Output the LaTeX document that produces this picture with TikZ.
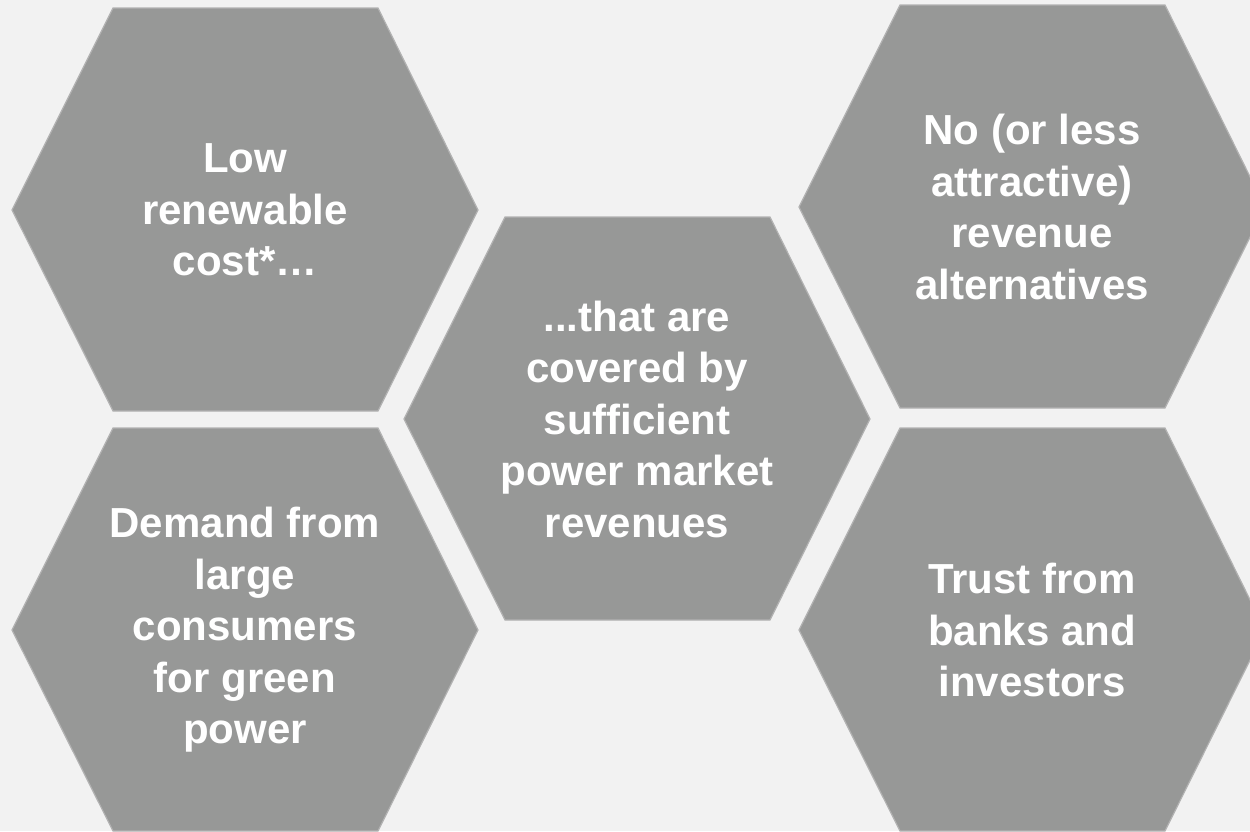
\documentclass[tikz,border=0pt]{standalone}
\usepackage{fontspec}
\setmainfont{Liberation Sans}
\definecolor{bggray}{RGB}{242,242,242}
\definecolor{hexgray}{RGB}{151,152,151}
\definecolor{hexedge}{RGB}{178,178,178}

\tikzset{
    hex/.style={fill=hexgray, draw=hexedge, line width=1.2pt},
    lbl/.style={text=white, align=center, inner sep=0pt,
        font=\bfseries\fontsize{42}{51.5}\selectfont}
}

\begin{document}
\begin{tikzpicture}[x=1pt, y=-1pt]

% Background and frame.
\fill[bggray] (0,0) rectangle (1250,831);
\useasboundingbox (0,0) rectangle (1250,831);
\clip (0,0) rectangle (1250,831);

% Left column.
\draw[hex] (245,210) ++(-233,0) -- ++(101,-202) -- ++(265,0) -- ++(100,202) -- ++(-100,201) -- ++(-265,0) -- cycle;
\node[lbl] (cost) at (245,210) {Low\\renewable\\cost*…};
\draw[hex] (245,630) ++(-233,0) -- ++(101,-202) -- ++(265,0) -- ++(100,202) -- ++(-100,201) -- ++(-265,0) -- cycle;
\node[lbl] (demand) at (245,630) {Demand from\\large\\consumers\\for green\\power};

% Middle.
\draw[hex] (637,419) ++(-233,0) -- ++(101,-202) -- ++(265,0) -- ++(100,202) -- ++(-100,201) -- ++(-265,0) -- cycle;
\node[lbl] (revenues) at (637,419) {...that are\\covered by\\sufficient\\power market\\revenues};

% Right column.
\draw[hex] (1032,207) ++(-233,0) -- ++(101,-202) -- ++(265,0) -- ++(100,202) -- ++(-100,201) -- ++(-265,0) -- cycle;
\node[lbl] (alternatives) at (1032,207) {No (or less\\attractive)\\revenue\\alternatives};
\draw[hex] (1032,630) ++(-233,0) -- ++(101,-202) -- ++(265,0) -- ++(100,202) -- ++(-100,201) -- ++(-265,0) -- cycle;
\node[lbl] (trust) at (1032,630) {Trust from\\banks and\\investors};

\end{tikzpicture}
\end{document}
